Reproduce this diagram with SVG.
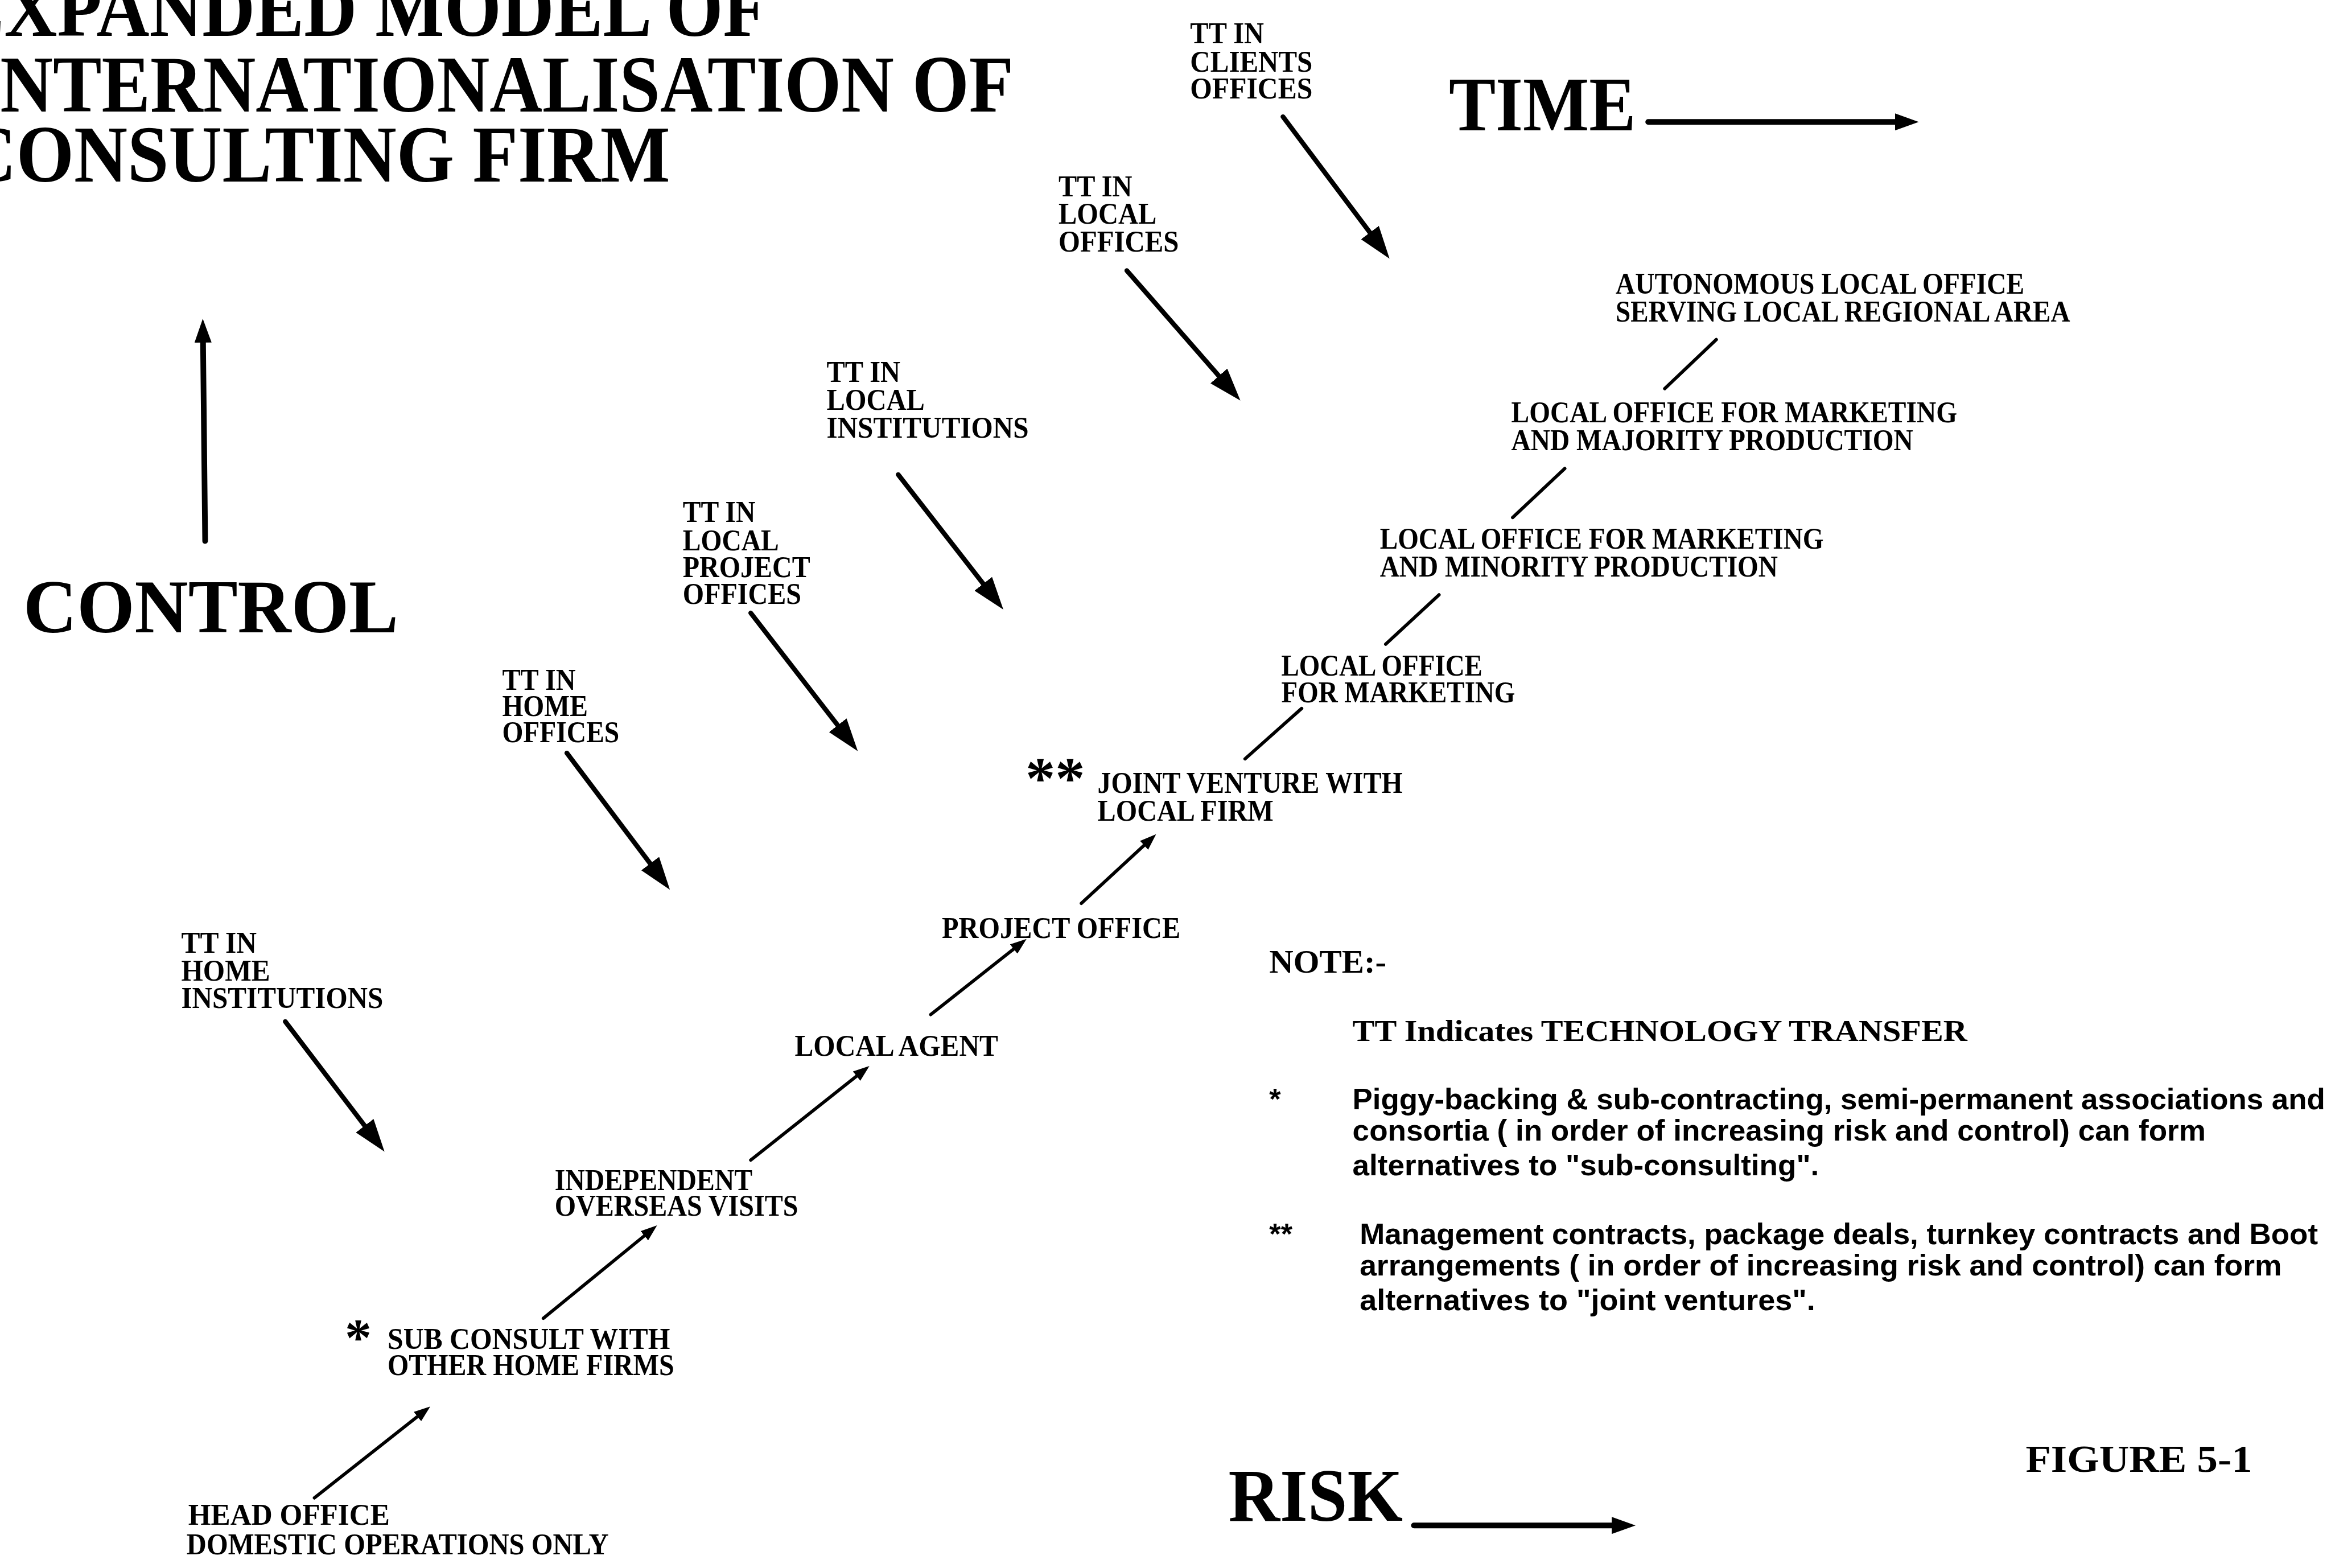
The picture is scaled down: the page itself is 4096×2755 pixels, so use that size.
<svg xmlns="http://www.w3.org/2000/svg" width="4096" height="2755" viewBox="0 0 4096 2755">
  <style>
    .ttl{font-family:"Liberation Serif","Times New Roman",serif;font-weight:bold;font-size:54px;fill:#000}
    .axis-lbl{font-family:"Liberation Serif","Times New Roman",serif;font-weight:bold;fill:#000}
    .lbl{font-family:"Liberation Serif","Times New Roman",serif;font-weight:bold;font-size:20.5px;fill:#000}
    .star{font-family:"Liberation Serif","Times New Roman",serif;font-weight:bold;fill:#000}
    .note{font-family:"Liberation Sans",Arial,sans-serif;font-weight:bold;font-size:20px;fill:#000}
    .tt{stroke:#000;stroke-width:3.2;fill:none;stroke-linecap:round;marker-end:url(#ah-tt)}
    .step{stroke:#000;stroke-width:2.2;fill:none;stroke-linecap:round}
    .step-arrow{stroke:#000;stroke-width:2.2;fill:none;stroke-linecap:round;marker-end:url(#ah-sm)}
    .ax{stroke:#000;stroke-width:3.8;fill:none;stroke-linecap:round;marker-end:url(#ah-ax)}
  </style>
  <defs>
    <marker id="ah-tt" viewBox="0 0 22 15" markerWidth="22" markerHeight="15" refX="14" refY="7.5" orient="auto" markerUnits="userSpaceOnUse">
      <path d="M0,0 L22,7.5 L0,15 z" fill="#000"/>
    </marker>
    <marker id="ah-sm" viewBox="0 0 11 8" markerWidth="11" markerHeight="8" refX="6" refY="4" orient="auto" markerUnits="userSpaceOnUse">
      <path d="M0,0 L11,4 L0,8 z" fill="#000"/>
    </marker>
    <marker id="ah-ax" viewBox="0 0 16 11.5" markerWidth="16" markerHeight="11.5" refX="8" refY="5.75" orient="auto" markerUnits="userSpaceOnUse">
      <path d="M0,0 L16,5.75 L0,11.5 z" fill="#000"/>
    </marker>
  </defs>

  <rect x="0" y="0" width="4096" height="2755" fill="#fff"/>

  <!-- everything below is laid out on a 1568 x 1055 grid -->
  <g transform="scale(2.612245)">

    <g id="title">
      <text class="ttl" x="-30" y="24.3" textLength="546.5" lengthAdjust="spacingAndGlyphs">EXPANDED MODEL OF</text>
      <text class="ttl" x="-19" y="75.2" textLength="700.8" lengthAdjust="spacingAndGlyphs">INTERNATIONALISATION OF</text>
      <text class="ttl" x="-25" y="122.3" textLength="475.8" lengthAdjust="spacingAndGlyphs">CONSULTING FIRM</text>
    </g>

    <g id="axis-control">
      <text class="axis-lbl" x="15.7" y="425.3" font-size="51" textLength="252.3" lengthAdjust="spacingAndGlyphs">CONTROL</text>
    </g>
    <g id="axis-time">
      <text class="axis-lbl" x="974.6" y="87.6" font-size="52" textLength="125.8" lengthAdjust="spacingAndGlyphs">TIME</text>
    </g>
    <g id="axis-risk">
      <text class="axis-lbl" x="826.3" y="1023" font-size="50" textLength="117.4" lengthAdjust="spacingAndGlyphs">RISK</text>
    </g>

    <!-- technology-transfer labels -->
    <g id="tt-clients-offices">
      <text class="lbl" x="800.6" y="29" textLength="49.6" lengthAdjust="spacingAndGlyphs">TT IN</text>
      <text class="lbl" x="800.6" y="48.1" textLength="82.3" lengthAdjust="spacingAndGlyphs">CLIENTS</text>
      <text class="lbl" x="800.6" y="66.2" textLength="82.3" lengthAdjust="spacingAndGlyphs">OFFICES</text>
    </g>
    <g id="tt-local-offices">
      <text class="lbl" x="712" y="132" textLength="49.6" lengthAdjust="spacingAndGlyphs">TT IN</text>
      <text class="lbl" x="712" y="150.6" textLength="66" lengthAdjust="spacingAndGlyphs">LOCAL</text>
      <text class="lbl" x="712" y="169.2" textLength="81" lengthAdjust="spacingAndGlyphs">OFFICES</text>
    </g>
    <g id="tt-local-institutions">
      <text class="lbl" x="556" y="257" textLength="49.6" lengthAdjust="spacingAndGlyphs">TT IN</text>
      <text class="lbl" x="556" y="275.6" textLength="66" lengthAdjust="spacingAndGlyphs">LOCAL</text>
      <text class="lbl" x="556" y="294.2" textLength="136" lengthAdjust="spacingAndGlyphs">INSTITUTIONS</text>
    </g>
    <g id="tt-local-project-offices">
      <text class="lbl" x="459.3" y="351.1" textLength="48.9" lengthAdjust="spacingAndGlyphs">TT IN</text>
      <text class="lbl" x="459.3" y="370.3" textLength="64.7" lengthAdjust="spacingAndGlyphs">LOCAL</text>
      <text class="lbl" x="459.3" y="388" textLength="85.7" lengthAdjust="spacingAndGlyphs">PROJECT</text>
      <text class="lbl" x="459.3" y="406" textLength="79.7" lengthAdjust="spacingAndGlyphs">OFFICES</text>
    </g>
    <g id="tt-home-offices">
      <text class="lbl" x="337.8" y="463.9" textLength="49.4" lengthAdjust="spacingAndGlyphs">TT IN</text>
      <text class="lbl" x="337.8" y="481.6" textLength="57.6" lengthAdjust="spacingAndGlyphs">HOME</text>
      <text class="lbl" x="337.8" y="499.3" textLength="78.8" lengthAdjust="spacingAndGlyphs">OFFICES</text>
    </g>
    <g id="tt-home-institutions">
      <text class="lbl" x="121.9" y="640.9" textLength="50.7" lengthAdjust="spacingAndGlyphs">TT IN</text>
      <text class="lbl" x="121.9" y="659.7" textLength="59.8" lengthAdjust="spacingAndGlyphs">HOME</text>
      <text class="lbl" x="121.9" y="677.9" textLength="135.9" lengthAdjust="spacingAndGlyphs">INSTITUTIONS</text>
    </g>

    <!-- stages of internationalisation -->
    <g id="stage-head-office">
      <text class="lbl" x="126.6" y="1025.7" textLength="135.6" lengthAdjust="spacingAndGlyphs">HEAD OFFICE</text>
      <text class="lbl" x="125.5" y="1045.3" textLength="283.9" lengthAdjust="spacingAndGlyphs">DOMESTIC OPERATIONS ONLY</text>
    </g>
    <g id="stage-sub-consult">
      <text class="star" x="232" y="911.5" font-size="36">*</text>
      <text class="lbl" x="260.7" y="907.3" textLength="190" lengthAdjust="spacingAndGlyphs">SUB CONSULT WITH</text>
      <text class="lbl" x="260.7" y="925" textLength="192.8" lengthAdjust="spacingAndGlyphs">OTHER HOME FIRMS</text>
    </g>
    <g id="stage-overseas-visits">
      <text class="lbl" x="373.1" y="800.5" textLength="133" lengthAdjust="spacingAndGlyphs">INDEPENDENT</text>
      <text class="lbl" x="373.1" y="817.8" textLength="163.8" lengthAdjust="spacingAndGlyphs">OVERSEAS VISITS</text>
    </g>
    <g id="stage-local-agent">
      <text class="lbl" x="534.6" y="710" textLength="136.8" lengthAdjust="spacingAndGlyphs">LOCAL AGENT</text>
    </g>
    <g id="stage-project-office">
      <text class="lbl" x="633.6" y="631" textLength="160.4" lengthAdjust="spacingAndGlyphs">PROJECT OFFICE</text>
    </g>
    <g id="stage-joint-venture">
      <text class="star" x="689.8" y="536.6" font-size="40">**</text>
      <text class="lbl" x="738.3" y="533.3" textLength="205.2" lengthAdjust="spacingAndGlyphs">JOINT VENTURE WITH</text>
      <text class="lbl" x="738.3" y="552.1" textLength="118.3" lengthAdjust="spacingAndGlyphs">LOCAL FIRM</text>
    </g>
    <g id="stage-marketing-office">
      <text class="lbl" x="861.9" y="454.4" textLength="135.3" lengthAdjust="spacingAndGlyphs">LOCAL OFFICE</text>
      <text class="lbl" x="861.9" y="472.4" textLength="157.3" lengthAdjust="spacingAndGlyphs">FOR MARKETING</text>
    </g>
    <g id="stage-minority-production">
      <text class="lbl" x="928.2" y="369.2" textLength="298.5" lengthAdjust="spacingAndGlyphs">LOCAL OFFICE FOR MARKETING</text>
      <text class="lbl" x="928.2" y="387.8" textLength="267.7" lengthAdjust="spacingAndGlyphs">AND MINORITY PRODUCTION</text>
    </g>
    <g id="stage-majority-production">
      <text class="lbl" x="1016.6" y="284.2" textLength="299.9" lengthAdjust="spacingAndGlyphs">LOCAL OFFICE FOR MARKETING</text>
      <text class="lbl" x="1016.6" y="302.8" textLength="270.3" lengthAdjust="spacingAndGlyphs">AND MAJORITY PRODUCTION</text>
    </g>
    <g id="stage-autonomous-office">
      <text class="lbl" x="1086.8" y="197.5" textLength="274.9" lengthAdjust="spacingAndGlyphs">AUTONOMOUS LOCAL OFFICE</text>
      <text class="lbl" x="1086.8" y="216.1" textLength="305.7" lengthAdjust="spacingAndGlyphs">SERVING LOCAL REGIONAL AREA</text>
    </g>

    <!-- notes -->
    <g id="notes">
      <text class="axis-lbl" x="853.8" y="654.1" font-size="22" textLength="78.8" lengthAdjust="spacingAndGlyphs">NOTE:-</text>
      <text class="lbl" x="909.8" y="700" font-size="21" textLength="413.5" lengthAdjust="spacingAndGlyphs">TT Indicates TECHNOLOGY TRANSFER</text>
      <text class="note" x="853.8" y="746.2">*</text>
      <text class="note" x="909.8" y="746.2" textLength="654.3" lengthAdjust="spacingAndGlyphs">Piggy-backing &amp; sub-contracting, semi-permanent associations and</text>
      <text class="note" x="909.8" y="767" textLength="574" lengthAdjust="spacingAndGlyphs">consortia ( in order of increasing risk and control) can form</text>
      <text class="note" x="909.8" y="790.6" textLength="313.8" lengthAdjust="spacingAndGlyphs">alternatives to "sub-consulting".</text>
      <text class="note" x="853.8" y="836.9">**</text>
      <text class="note" x="914.6" y="836.9" textLength="644.6" lengthAdjust="spacingAndGlyphs">Management contracts, package deals, turnkey contracts and Boot</text>
      <text class="note" x="914.6" y="857.7" textLength="620.3" lengthAdjust="spacingAndGlyphs">arrangements ( in order of increasing risk and control) can form</text>
      <text class="note" x="914.6" y="881.3" textLength="306.5" lengthAdjust="spacingAndGlyphs">alternatives to "joint ventures".</text>
    </g>

    <g id="figure-number">
      <text class="axis-lbl" x="1362.6" y="990" font-size="26" textLength="152.4" lengthAdjust="spacingAndGlyphs">FIGURE 5-1</text>
    </g>

    <g id="connectors">
      <!-- axes -->
      <path class="ax" d="M138,363.9 L136.5,222.4"/>
      <path class="ax" d="M1108.7,82 L1282.7,82"/>
      <path class="ax" d="M951.1,1026 L1092.2,1026"/>
      <!-- technology transfer arrows -->
      <path class="tt" d="M863,78.5 L929.9,167.6"/>
      <path class="tt" d="M758,182 L829.1,263.4"/>
      <path class="tt" d="M604.2,319.2 L670,403.7"/>
      <path class="tt" d="M505,412.3 L572.1,498.9"/>
      <path class="tt" d="M381.3,506.5 L445.8,592"/>
      <path class="tt" d="M191.9,687.1 L253.8,768.3"/>
      <!-- progression between stages -->
      <path class="step-arrow" d="M211.5,1007.5 L285.5,949.1"/>
      <path class="step-arrow" d="M365.5,886.7 L438.1,827.4"/>
      <path class="step-arrow" d="M505,780.3 L580.9,720.1"/>
      <path class="step-arrow" d="M626.1,682.4 L686.6,634.6"/>
      <path class="step-arrow" d="M727.4,607.6 L774,564.5"/>
      <path class="step" d="M837.5,510.4 L875.6,476.5"/>
      <path class="step" d="M932.1,433.3 L968,400.1"/>
      <path class="step" d="M1017.5,348.1 L1052.6,315.1"/>
      <path class="step" d="M1119.8,261.4 L1154.5,228.4"/>
    </g>
  </g>
</svg>
